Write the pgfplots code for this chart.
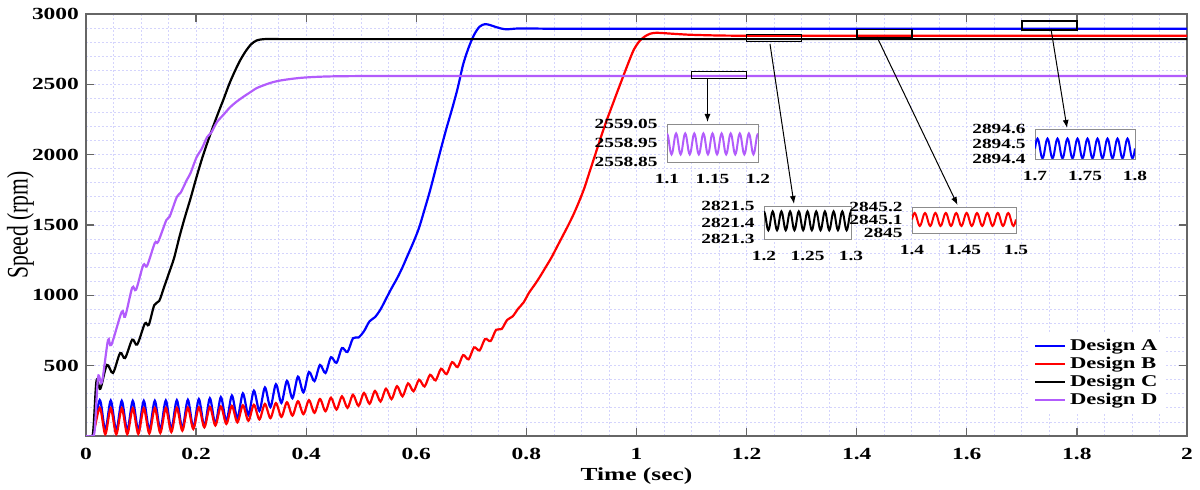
\documentclass[border=0pt]{standalone}
\usepackage{graphicx}
\usepackage{fontspec}
\setmainfont{Liberation Serif}[FakeStretch=1.38]
\newfontfamily\plainserif{Liberation Serif}
\usepackage{pgfplots}
\pgfplotsset{compat=1.18}
\usetikzlibrary{arrows.meta}
\definecolor{cA}{RGB}{0,0,255}
\definecolor{cB}{RGB}{255,0,0}
\definecolor{cC}{RGB}{0,0,0}
\definecolor{cD}{RGB}{178,92,252}
\definecolor{gridc}{RGB}{212,212,252}
\pgfplotsset{
  inset/.style={
    scale only axis, enlargelimits=false, anchor=south west,
    axis background/.style={fill=white},
    axis line style={draw=black!45, line width=0.4pt},
    major tick length=0pt, minor tick length=0pt,
    ticklabel style={font=\fontsize{7}{8}\selectfont\bfseries},
    yticklabel style={xshift=-1.2pt},
    xticklabel style={yshift=-2.4pt},
  }
}
\begin{document}
\begin{tikzpicture}
\path[use as bounding box] (-43pt,-27pt) rectangle (557pt,218pt);
\begin{axis}[
  scale only axis, width=550.5pt, height=211pt,
  at={(0pt,0pt)}, anchor=south west,
  xmin=0, xmax=2, ymin=0, ymax=3000, enlargelimits=false,
  xtick={0,0.2,0.4,0.6,0.8,1,1.2,1.4,1.6,1.8,2},
  xticklabels={0,0.2,0.4,0.6,0.8,1,1.2,1.4,1.6,1.8,2},
  ytick={500,1000,1500,2000,2500,3000},
  yticklabels={500,1000,1500,2000,2500,3000},
  minor x tick num=3,
  minor ytick={100,200,300,400,600,700,800,900,1100,1200,1300,1400,1600,1700,1800,1900,2100,2200,2300,2400,2600,2700,2800,2900},
  grid=both,
  major grid style={draw=gridc, dash pattern=on 1pt off 1pt, line width=0.4pt},
  minor grid style={draw=gridc, dash pattern=on 1pt off 1pt, line width=0.4pt},
  axis line style={draw=black!60, line width=0.6pt},
  tick style={draw=black!60, line width=0.6pt},
  tick align=inside, major tick length=4pt, minor tick length=0pt,
  ticklabel style={font=\fontsize{8.5}{9}\selectfont\bfseries},
  xticklabel style={yshift=-2.6pt},
  xlabel={Time (sec)},
  xlabel style={font=\fontsize{9.2}{10}\selectfont\bfseries, at={(axis description cs:0.5,0)}, anchor=center, yshift=-20pt},
  ylabel={\scalebox{1}[1.38]{\plainserif\fontsize{10.8}{12}\selectfont Speed (rpm)}},
  ylabel style={at={(axis description cs:0,0.5)}, anchor=center, yshift=32.75pt},
  legend style={at={(0.857,0.245)}, anchor=north west, draw=none, fill=white,
    font=\fontsize{8.2}{9}\selectfont\bfseries, inner xsep=2pt, inner ysep=1pt, row sep=-2.2pt},
  legend cell align=left,
  legend image code/.code={\draw[#1] (0pt,0pt) -- (15pt,0pt);},
  every axis plot/.append style={line width=1.1pt},
]
\addplot[cA, smooth] coordinates {
(0,0)(0.012,0)
(0.025,255)(0.035,40)(0.045,252)(0.055,38)(0.065,250)(0.075,38)(0.085,250)(0.095,40)
(0.105,250)(0.115,42)(0.125,250)(0.135,45)(0.145,252)(0.155,48)(0.165,254)(0.175,52)
(0.185,257)(0.195,58)(0.205,262)(0.215,68)(0.225,268)(0.235,85)(0.245,276)(0.255,105)
(0.265,288)(0.275,125)(0.285,303)(0.295,150)(0.305,322)(0.315,178)(0.325,345)(0.335,205)
(0.345,368)(0.355,235)(0.365,392)(0.375,268)(0.385,422)(0.395,310)(0.405,455)(0.415,390)
(0.425,505)(0.435,448)(0.445,560)(0.455,520)(0.465,625)(0.475,597)(0.485,695)(0.495,700)
(0.505,745)(0.515,815)(0.525,845)(0.535,900)(0.545,975)(0.555,1050)(0.565,1120)(0.575,1200)
(0.585,1290)(0.595,1380)(0.605,1480)(0.615,1610)(0.625,1745)(0.635,1895)(0.645,2045)
(0.655,2190)(0.665,2325)(0.675,2470)(0.685,2640)(0.695,2760)(0.705,2852)(0.715,2910)
(0.725,2928)(0.735,2920)(0.745,2907)(0.755,2896)(0.765,2891)(0.78,2896)(0.80,2897)
(0.85,2895)(0.9,2894.5)(1.0,2894.5)(1.1,2894.5)(1.2,2894.5)(1.3,2894.5)(1.4,2894.5)
(1.5,2894.5)(1.6,2894.5)(1.7,2894.5)(1.8,2894.5)(1.9,2894.5)(2,2894.5)};
\addlegendentry{Design A}
\addplot[cB, smooth] coordinates {
(0,0)(0.012,0)
(0.025,200)(0.035,12)(0.045,198)(0.055,12)(0.065,197)(0.075,13)(0.085,197)(0.095,15)
(0.105,197)(0.115,18)(0.125,198)(0.135,22)(0.145,199)(0.155,28)(0.165,200)(0.175,38)
(0.185,202)(0.195,50)(0.205,204)(0.215,62)(0.225,207)(0.235,75)(0.245,210)(0.255,86)
(0.265,214)(0.275,97)(0.285,218)(0.295,108)(0.305,222)(0.315,118)(0.325,228)(0.335,127)
(0.345,234)(0.355,136)(0.365,240)(0.375,145)(0.385,247)(0.395,155)(0.405,255)(0.415,165)
(0.425,263)(0.435,176)(0.445,272)(0.455,188)(0.465,282)(0.475,200)(0.485,293)(0.495,214)
(0.505,306)(0.515,229)(0.525,320)(0.535,245)(0.545,336)(0.555,262)(0.565,354)(0.575,282)
(0.585,374)(0.595,318)(0.605,400)(0.615,352)(0.625,435)(0.635,395)(0.645,478)(0.655,440)
(0.665,525)(0.675,490)(0.685,575)(0.695,545)(0.705,630)(0.715,608)(0.725,690)(0.735,675)
(0.745,755)(0.755,760)(0.765,825)(0.775,850)(0.785,905)(0.795,950)(0.805,1020)(0.815,1075)
(0.825,1135)(0.835,1200)(0.845,1265)(0.855,1340)(0.865,1415)(0.875,1490)(0.885,1570)
(0.895,1660)(0.905,1760)(0.915,1880)(0.925,2000)(0.935,2120)(0.945,2235)(0.955,2340)
(0.965,2445)(0.975,2548)(0.985,2650)(0.995,2745)(1.005,2805)(1.015,2840)(1.025,2860)
(1.035,2866)(1.045,2865)(1.06,2861)(1.08,2856)(1.1,2852)(1.15,2847)(1.2,2845.5)
(1.3,2845.1)(1.4,2845.1)(1.5,2845.1)(1.6,2845.1)(1.7,2845.1)(1.8,2845.1)(1.9,2845.1)(2,2845.1)};
\addlegendentry{Design B}
\addplot[cC, smooth] coordinates {
(0,0)(0.012,0)(0.019,390)(0.026,335)(0.038,505)(0.049,448)(0.062,590)(0.071,554)
(0.084,685)(0.093,650)(0.107,800)(0.114,790)(0.124,930)(0.133,960)(0.142,1060)(0.15,1150)
(0.16,1265)(0.17,1420)(0.18,1560)(0.19,1690)(0.20,1830)(0.21,1962)(0.22,2080)(0.23,2190)
(0.24,2295)(0.25,2395)(0.26,2500)(0.27,2590)(0.28,2670)(0.29,2735)(0.30,2785)(0.31,2812)
(0.32,2820)(0.33,2822)(0.35,2821.5)(0.4,2821.4)(0.5,2821.4)(0.6,2821.4)(0.7,2821.4)
(0.8,2821.4)(0.9,2821.4)(1.0,2821.4)(1.1,2821.4)(1.2,2821.4)(1.3,2821.4)(1.4,2821.4)
(1.5,2821.4)(1.6,2821.4)(1.7,2821.4)(1.8,2821.4)(1.9,2821.4)(2,2821.4)};
\addlegendentry{Design C}
\addplot[cD, smooth] coordinates {
(0,0)(0.012,0)(0.016,50)(0.022,420)(0.029,384)(0.04,682)(0.046,647)(0.065,884)(0.071,848)
(0.084,1055)(0.091,1040)(0.104,1215)(0.111,1210)(0.125,1372)(0.131,1380)(0.146,1535)
(0.152,1560)(0.165,1699)(0.172,1730)(0.183,1819)(0.19,1870)(0.201,1983)(0.21,2040)
(0.22,2125)(0.228,2160)(0.238,2232)(0.25,2285)(0.262,2338)(0.273,2375)(0.285,2409)
(0.297,2440)(0.31,2473)(0.322,2492)(0.334,2509)(0.35,2525)(0.37,2537)(0.39,2546)
(0.413,2552)(0.44,2556)(0.474,2558)(0.52,2559)(0.6,2559)(0.7,2559)(0.8,2559)(0.9,2559)
(1.0,2559)(1.1,2558.95)(1.2,2558.95)(1.3,2558.95)(1.4,2558.95)(1.5,2558.95)(1.6,2558.95)
(1.7,2558.95)(1.8,2558.95)(1.9,2558.95)(2,2558.95)};
\addlegendentry{Design D}
\draw[black, line width=0.8pt] (axis cs:1.1,2540) rectangle (axis cs:1.2,2590);
\draw[black, line width=0.8pt] (axis cs:1.2,2805) rectangle (axis cs:1.3,2855);
\draw[black, line width=0.8pt] (axis cs:1.4,2830) rectangle (axis cs:1.5,2890);
\draw[black, line width=0.8pt] (axis cs:1.7,2885) rectangle (axis cs:1.8,2950);
\end{axis}
% inset D (purple)
\begin{axis}[inset, at={(290.5pt,137pt)}, width=45.5pt, height=19pt,
  xmin=1.1, xmax=1.2, ymin=0, ymax=0.2,
  xtick={1.1,1.15,1.2}, xticklabels={1.1,1.15,1.2},
  ytick={0,0.1,0.2}, yticklabels={2558.85,2558.95,2559.05}]
\addplot[cD, line width=1pt, smooth] coordinates {
(1.1,.150)(1.10125,.134)(1.1025,.095)(1.10375,.056)(1.105,.040)(1.10625,.056)(1.1075,.095)(1.10875,.134)
(1.11,.150)(1.11125,.134)(1.1125,.095)(1.11375,.056)(1.115,.040)(1.11625,.056)(1.1175,.095)(1.11875,.134)
(1.12,.150)(1.12125,.134)(1.1225,.095)(1.12375,.056)(1.125,.040)(1.12625,.056)(1.1275,.095)(1.12875,.134)
(1.13,.150)(1.13125,.134)(1.1325,.095)(1.13375,.056)(1.135,.040)(1.13625,.056)(1.1375,.095)(1.13875,.134)
(1.14,.150)(1.14125,.134)(1.1425,.095)(1.14375,.056)(1.145,.040)(1.14625,.056)(1.1475,.095)(1.14875,.134)
(1.15,.150)(1.15125,.134)(1.1525,.095)(1.15375,.056)(1.155,.040)(1.15625,.056)(1.1575,.095)(1.15875,.134)
(1.16,.150)(1.16125,.134)(1.1625,.095)(1.16375,.056)(1.165,.040)(1.16625,.056)(1.1675,.095)(1.16875,.134)
(1.17,.150)(1.17125,.134)(1.1725,.095)(1.17375,.056)(1.175,.040)(1.17625,.056)(1.1775,.095)(1.17875,.134)
(1.18,.150)(1.18125,.134)(1.1825,.095)(1.18375,.056)(1.185,.040)(1.18625,.056)(1.1875,.095)(1.18875,.134)
(1.19,.150)(1.19125,.134)(1.1925,.095)(1.19375,.056)(1.195,.040)(1.19625,.056)(1.1975,.095)(1.19875,.134)
(1.2,.150)};
\end{axis}
% inset C (black)
\begin{axis}[inset, at={(339pt,98.5pt)}, width=43.5pt, height=16.5pt,
  xmin=1.2, xmax=1.3, ymin=0, ymax=0.2,
  xtick={1.2,1.25,1.3}, xticklabels={1.2,1.25,1.3},
  ytick={0,0.1,0.2}, yticklabels={2821.3,2821.4,2821.5}]
\addplot[cC, line width=1pt, smooth] coordinates {
(1.2,.167)(1.20125,.150)(1.2025,.110)(1.20375,.070)(1.205,.053)(1.20625,.070)(1.2075,.110)(1.20875,.150)
(1.21,.167)(1.21125,.150)(1.2125,.110)(1.21375,.070)(1.215,.053)(1.21625,.070)(1.2175,.110)(1.21875,.150)
(1.22,.167)(1.22125,.150)(1.2225,.110)(1.22375,.070)(1.225,.053)(1.22625,.070)(1.2275,.110)(1.22875,.150)
(1.23,.167)(1.23125,.150)(1.2325,.110)(1.23375,.070)(1.235,.053)(1.23625,.070)(1.2375,.110)(1.23875,.150)
(1.24,.167)(1.24125,.150)(1.2425,.110)(1.24375,.070)(1.245,.053)(1.24625,.070)(1.2475,.110)(1.24875,.150)
(1.25,.167)(1.25125,.150)(1.2525,.110)(1.25375,.070)(1.255,.053)(1.25625,.070)(1.2575,.110)(1.25875,.150)
(1.26,.167)(1.26125,.150)(1.2625,.110)(1.26375,.070)(1.265,.053)(1.26625,.070)(1.2675,.110)(1.26875,.150)
(1.27,.167)(1.27125,.150)(1.2725,.110)(1.27375,.070)(1.275,.053)(1.27625,.070)(1.2775,.110)(1.27875,.150)
(1.28,.167)(1.28125,.150)(1.2825,.110)(1.28375,.070)(1.285,.053)(1.28625,.070)(1.2875,.110)(1.28875,.150)
(1.29,.167)(1.29125,.150)(1.2925,.110)(1.29375,.070)(1.295,.053)(1.29625,.070)(1.2975,.110)(1.29875,.150)
(1.3,.167)};
\end{axis}
% inset B (red)
\begin{axis}[inset, at={(413pt,101.5pt)}, width=52pt, height=13pt,
  xmin=1.4, xmax=1.5, ymin=0, ymax=0.2,
  xtick={1.4,1.45,1.5}, xticklabels={1.4,1.45,1.5},
  ytick={0,0.1,0.2}, yticklabels={2845,2845.1,2845.2}]
\addplot[cB, line width=1pt, smooth] coordinates {
(1.4,.104)(1.40125,.139)(1.4025,.154)(1.40375,.139)(1.405,.104)(1.40625,.069)(1.4075,.054)(1.40875,.069)
(1.41,.104)(1.41125,.139)(1.4125,.154)(1.41375,.139)(1.415,.104)(1.41625,.069)(1.4175,.054)(1.41875,.069)
(1.42,.104)(1.42125,.139)(1.4225,.154)(1.42375,.139)(1.425,.104)(1.42625,.069)(1.4275,.054)(1.42875,.069)
(1.43,.104)(1.43125,.139)(1.4325,.154)(1.43375,.139)(1.435,.104)(1.43625,.069)(1.4375,.054)(1.43875,.069)
(1.44,.104)(1.44125,.139)(1.4425,.154)(1.44375,.139)(1.445,.104)(1.44625,.069)(1.4475,.054)(1.44875,.069)
(1.45,.104)(1.45125,.139)(1.4525,.154)(1.45375,.139)(1.455,.104)(1.45625,.069)(1.4575,.054)(1.45875,.069)
(1.46,.104)(1.46125,.139)(1.4625,.154)(1.46375,.139)(1.465,.104)(1.46625,.069)(1.4675,.054)(1.46875,.069)
(1.47,.104)(1.47125,.139)(1.4725,.154)(1.47375,.139)(1.475,.104)(1.47625,.069)(1.4775,.054)(1.47875,.069)
(1.48,.104)(1.48125,.139)(1.4825,.154)(1.48375,.139)(1.485,.104)(1.48625,.069)(1.4875,.054)(1.48875,.069)
(1.49,.104)(1.49125,.139)(1.4925,.154)(1.49375,.139)(1.495,.104)(1.49625,.069)(1.4975,.054)(1.49875,.069)
(1.5,.104)};
\end{axis}
% inset A (blue)
\begin{axis}[inset, at={(474.5pt,138.5pt)}, width=50pt, height=15pt,
  xmin=1.7, xmax=1.8, ymin=0, ymax=0.2,
  xtick={1.7,1.75,1.8}, xticklabels={1.7,1.75,1.8},
  ytick={0,0.1,0.2}, yticklabels={2894.4,2894.5,2894.6}]
\addplot[cA, line width=1pt, smooth] coordinates {
(1.7,.070)(1.70125,.117)(1.7025,.136)(1.70375,.117)(1.705,.070)(1.70625,.023)(1.7075,.004)(1.70875,.023)
(1.71,.070)(1.71125,.117)(1.7125,.136)(1.71375,.117)(1.715,.070)(1.71625,.023)(1.7175,.004)(1.71875,.023)
(1.72,.070)(1.72125,.117)(1.7225,.136)(1.72375,.117)(1.725,.070)(1.72625,.023)(1.7275,.004)(1.72875,.023)
(1.73,.070)(1.73125,.117)(1.7325,.136)(1.73375,.117)(1.735,.070)(1.73625,.023)(1.7375,.004)(1.73875,.023)
(1.74,.070)(1.74125,.117)(1.7425,.136)(1.74375,.117)(1.745,.070)(1.74625,.023)(1.7475,.004)(1.74875,.023)
(1.75,.070)(1.75125,.117)(1.7525,.136)(1.75375,.117)(1.755,.070)(1.75625,.023)(1.7575,.004)(1.75875,.023)
(1.76,.070)(1.76125,.117)(1.7625,.136)(1.76375,.117)(1.765,.070)(1.76625,.023)(1.7675,.004)(1.76875,.023)
(1.77,.070)(1.77125,.117)(1.7725,.136)(1.77375,.117)(1.775,.070)(1.77625,.023)(1.7775,.004)(1.77875,.023)
(1.78,.070)(1.78125,.117)(1.7825,.136)(1.78375,.117)(1.785,.070)(1.78625,.023)(1.7875,.004)(1.78875,.023)
(1.79,.070)(1.79125,.117)(1.7925,.136)(1.79375,.117)(1.795,.070)(1.79625,.023)(1.7975,.004)(1.79875,.023)
(1.8,.070)};
\end{axis}
\draw[-{Latex[length=4pt,width=3pt]}, line width=0.5pt] (310.75pt,178.5pt) -- (310.75pt,157pt);
\draw[-{Latex[length=4pt,width=3pt]}, line width=0.5pt] (342pt,196pt) -- (354pt,116pt);
\draw[-{Latex[length=4pt,width=3pt]}, line width=0.5pt] (395.5pt,199.5pt) -- (435.75pt,115.5pt);
\draw[-{Latex[length=4pt,width=3pt]}, line width=0.5pt] (482.5pt,203.5pt) -- (490.5pt,154pt);
\end{tikzpicture}
\end{document}
